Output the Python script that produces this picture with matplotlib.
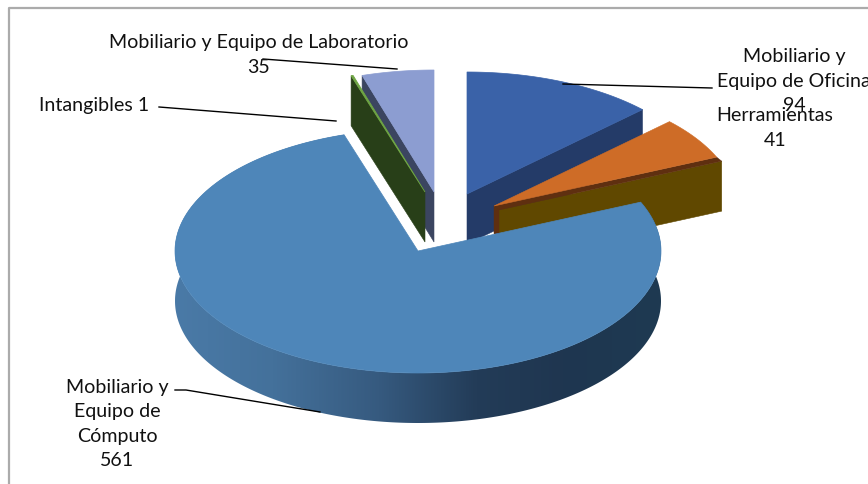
import numpy as np
import matplotlib
matplotlib.use("Agg")
import matplotlib.pyplot as plt
from matplotlib.colors import LinearSegmentedColormap
from matplotlib.patches import Polygon

plt.rcParams['font.family'] = ['Lato', 'DejaVu Sans']

# Datos
nombres = ["Mobiliario y\nEquipo de Oficina", "Herramientas",
           "Mobiliario y\nEquipo de\nCómputo", "Intangibles", "Mobiliario y Equipo de Laboratorio"]
valores = [94, 41, 561, 1, 35]

# Colores de cara superior / pared
c_top = ["#3A62A8", "#CE6C27", "#4E86B9", "#6FA544", "#8C9DD1"]
c_side = ["#243B68", "#5F2F10", "#2F5578", "#283F18", "#3B4560"]

# Geometria en pixeles de la imagen
rx, ry = 243, 122
prof = 50
apex = [(467, 195), (494, 207), (418, 252), (425, 193), (434, 193)]

angulos = np.concatenate(([0], np.cumsum(valores) / np.sum(valores) * 360))


def rim(cx, cy, t):
    t = np.radians(t)
    return cx + rx * np.sin(t), cy - ry * np.cos(t)


def cara(i):
    t = np.linspace(angulos[i], angulos[i + 1], 200)
    x, y = rim(apex[i][0], apex[i][1], t)
    return np.column_stack((np.r_[apex[i][0], x], np.r_[apex[i][1], y]))


def pared(cx, cy, t, color, z=1):
    x, y = rim(cx, cy, t)
    ax.add_patch(Polygon([(cx, cy), (x, y), (x, y + prof), (cx, cy + prof)],
                         closed=True, fc=color, ec=color, lw=0.4, zorder=z))


fig = plt.figure(figsize=(8.68, 4.85), dpi=100)
ax = fig.add_axes([0, 0, 1, 1])
ax.set_xlim(0, 868)
ax.set_ylim(485, 0)
ax.axis("off")

# marco gris
ax.plot([9, 9, 868], [485, 9, 9], color="#ABABAB", lw=1.6, zorder=0)

# Oficina
pared(*apex[0], angulos[1], c_side[0], 1)
ax.add_patch(Polygon(cara(0), fc=c_top[0], ec=c_top[0], lw=0.5, zorder=2))

# Herramientas: pared corrida y franja oscura
ox, oy = apex[1]
pared(ox + 5, oy + 4, angulos[2], "#604800", 3)
px, py = rim(ox, oy, angulos[2])
qx, qy = rim(ox + 5, oy + 4, angulos[2])
ax.add_patch(Polygon([(ox, oy), (px, py), (qx, qy), (ox + 5, oy + 4)], fc=c_side[1], ec=c_side[1], lw=0.3, zorder=3))
ax.add_patch(Polygon([(ox, oy), (ox + 5, oy + 4), (ox + 5, oy + prof - 22), (ox, oy + prof - 22)],
                     fc=c_side[1], ec=c_side[1], lw=0.3, zorder=3))
ax.add_patch(Polygon(cara(1), fc=c_top[1], ec=c_top[1], lw=0.4, zorder=4))

# Laboratorio
pared(*apex[4], angulos[4], c_side[4], 5)
ax.add_patch(Polygon(cara(4), fc=c_top[4], ec=c_top[4], lw=0.5, zorder=6))

# Intangibles
pared(*apex[3], angulos[3], c_side[3], 7)
ax.add_patch(Polygon(cara(3), fc=c_top[3], ec=c_top[3], lw=0.6, zorder=8))

# Computo: pared con degradado
cx, cy = apex[2]
t = np.linspace(angulos[2], angulos[3], 400)
xr, yr = rim(cx, cy, t)
poly = np.column_stack((np.r_[xr, xr[::-1]], np.r_[yr, yr[::-1] + prof]))
parche = Polygon(poly, fc="none", ec="none", zorder=9)
ax.add_patch(parche)
cmap = LinearSegmentedColormap.from_list("pared", [(0, "#4A7AA7"), (0.2, "#44719B"), (0.42, "#365A7F"),
                                                   (0.62, "#233C58"), (0.8, "#1F3650"), (1, "#1E3A52")])
im = ax.imshow(np.linspace(0, 1, 256).reshape(1, -1), cmap=cmap, aspect="auto",
               extent=(cx - rx, cx + rx, cy + ry + prof, cy - ry), zorder=9)
im.set_clip_path(parche)
ax.set_xlim(0, 868)
ax.set_ylim(485, 0)
ax.add_patch(Polygon(cara(2), fc=c_top[2], ec=c_top[2], lw=0.5, zorder=10))

# Lineas guia
guias = [((563, 712), (85, 89)), ((263, 397), (60, 70)), ((159, 336), (108, 122)),
         ((175, 186, 320), (391, 391, 413))]
for gx, gy in guias:
    ax.plot(gx, gy, color="black", lw=1.0, zorder=11)

# Etiquetas
fs = 14.1
ls = 1.54
ax.text(794, 81, "%s\n%d" % (nombres[0], valores[0]), ha="center", va="center", fontsize=fs, linespacing=ls, zorder=12, color="#111111")
ax.text(775, 128, "%s\n%d" % (nombres[1], valores[1]), ha="center", va="center", fontsize=fs, linespacing=ls, zorder=12, color="#111111")
ax.text(117, 424, "%s\n%d" % (nombres[2], valores[2]), ha="center", va="center", fontsize=fs, linespacing=ls, zorder=12, color="#111111")
ax.text(94, 106, "%s %d" % (nombres[3], valores[3]), ha="center", va="center", fontsize=fs, zorder=12, color="#111111")
ax.text(259, 55, "%s\n%d" % (nombres[4], valores[4]), ha="center", va="center", fontsize=fs, linespacing=ls, zorder=12, color="#111111")

fig.savefig("out.png", dpi=100)
